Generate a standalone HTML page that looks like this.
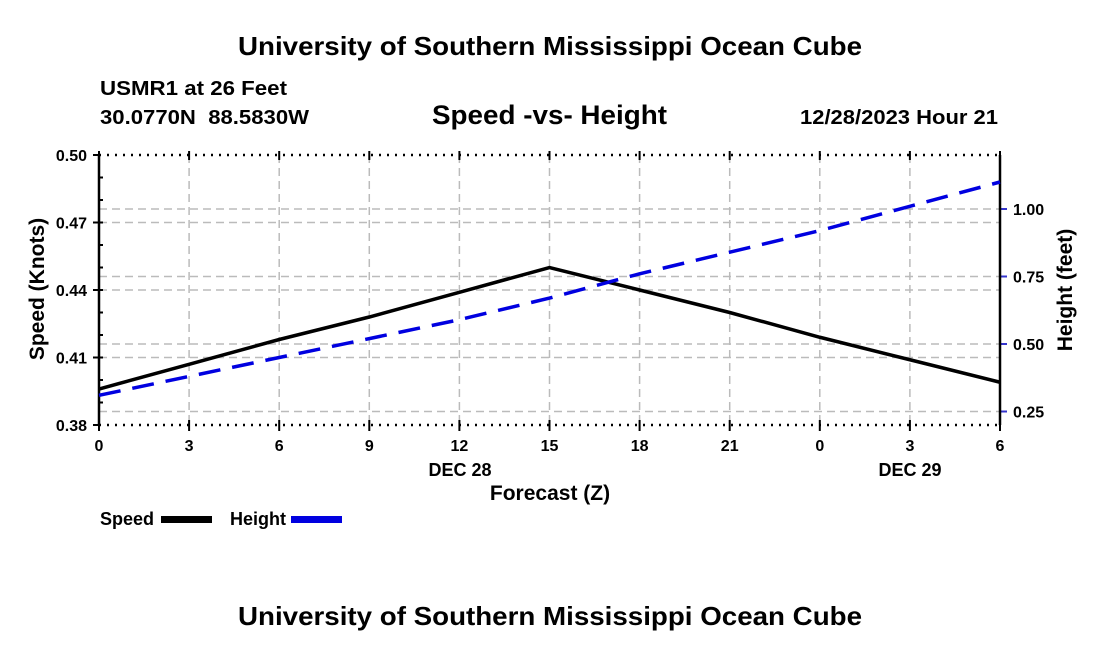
<!DOCTYPE html>
<html><head><meta charset="utf-8"><style>
body{margin:0;background:#fff}
svg text{font-family:"Liberation Sans",sans-serif;font-weight:bold;fill:#000}
</style></head><body>
<svg width="1100" height="650">
<script>
const hours=[0,3,6,9,12,15,18,21,24,27,30];
const xTickLabels=["0","3","6","9","12","15","18","21","0","3","6"];
const speedValues=[0.396,0.407,0.418,0.428,0.439,0.450,0.440,0.430,0.419,0.409,0.399];
const heightValues=[0.31,0.38,0.45,0.52,0.59,0.67,0.76,0.84,0.92,1.01,1.10];
const leftTicks=[0.38,0.41,0.44,0.47,0.50];
const rightTicks=[0.25,0.50,0.75,1.00];
</script>
<text x="238" y="55" font-size="26" textLength="624" lengthAdjust="spacingAndGlyphs">University of Southern Mississippi Ocean Cube</text>
<text x="100" y="95" font-size="20" textLength="187" lengthAdjust="spacingAndGlyphs">USMR1 at 26 Feet</text>
<text x="100" y="124" font-size="20" textLength="209" lengthAdjust="spacingAndGlyphs" xml:space="preserve">30.0770N  88.5830W</text>
<text x="432" y="124" font-size="27" textLength="235" lengthAdjust="spacingAndGlyphs">Speed -vs- Height</text>
<text x="800" y="124" font-size="20" textLength="198" lengthAdjust="spacingAndGlyphs">12/28/2023 Hour 21</text>
<g id="plot"></g>
<text x="550" y="500" font-size="21" text-anchor="middle">Forecast (Z)</text>
<text x="44" y="289" font-size="21" text-anchor="middle" transform="rotate(-90 44 289)">Speed (Knots)</text>
<text x="1072" y="290" font-size="21" text-anchor="middle" transform="rotate(-90 1072 290)">Height (feet)</text>
<text x="460" y="476" font-size="18" text-anchor="middle">DEC 28</text>
<text x="910" y="476" font-size="18" text-anchor="middle">DEC 29</text>
<g>
<text x="100" y="525" font-size="18">Speed</text>
<rect x="161" y="516" width="51" height="7" fill="#000"/>
<text x="230" y="525" font-size="18">Height</text>
<rect x="291" y="516" width="51" height="7" fill="#0000e0"/>
</g>
<text x="238" y="625" font-size="26" textLength="624" lengthAdjust="spacingAndGlyphs">University of Southern Mississippi Ocean Cube</text>
<script>
const NS="http://www.w3.org/2000/svg";
const g=document.getElementById('plot');
const X0=99,X1=1000,YT=155,YB=425;
const xs=h=>X0+(h-0)/30*(X1-X0);
const yl=v=>YB-(v-0.38)/0.12*(YB-YT);
const yr=v=>YB-(v-0.2)/1.0*(YB-YT);
function mk(t,a){const e=document.createElementNS(NS,t);for(const k in a)e.setAttribute(k,a[k]);g.appendChild(e);return e;}
hours.forEach((h,i)=>{
 const x=xs(h);
 const l=mk('line',{x1:x,y1:YT,x2:x,y2:YB,stroke:'#bbb','stroke-width':1.5,'stroke-dasharray':'8,5'});
 
 
 const tk=mk('line',{x1:x,y1:YB-5,x2:x,y2:YB+6,stroke:'#000','stroke-width':2});
 
 
 const tk2=mk('line',{x1:x,y1:YT-4,x2:x,y2:YT+5,stroke:'#000','stroke-width':2});
 
 
 const t=mk('text',{x:x,y:451,'font-size':16,'text-anchor':'middle'});t.textContent=xTickLabels[i];
 
 
});
leftTicks.forEach(v=>{
 const y=yl(v);
 if(v>0.38&&v<0.5){const l=mk('line',{x1:X0,y1:y,x2:X1,y2:y,stroke:'#bbb','stroke-width':1.5,'stroke-dasharray':'8,5'});
 
 }
 const tk=mk('line',{x1:X0-6,y1:y,x2:X0,y2:y,stroke:'#000','stroke-width':2});
 
 
 const t=mk('text',{x:X0-12,y:y+6,'font-size':16,'text-anchor':'end'});t.textContent=v.toFixed(2);
 
 
});
for(let v=0.39;v<0.5;v+=0.01){const y=yl(v);const m=mk('line',{x1:X0,y1:y,x2:X0+4,y2:y,stroke:'#000','stroke-width':2});
 
 }
rightTicks.forEach(v=>{
 const y=yr(v);
 const l=mk('line',{x1:X0,y1:y,x2:X1,y2:y,stroke:'#bbb','stroke-width':1.5,'stroke-dasharray':'8,5'});
 
 
 const tk=mk('line',{x1:X1,y1:y,x2:X1+7,y2:y,stroke:'#3333cc','stroke-width':2});
 
 
 const t=mk('text',{x:X1+13,y:y+6,'font-size':16});t.textContent=v.toFixed(2);
 
 
});
[[X0,YT,X1,YT],[X0,YB,X1,YB]].forEach((c,i)=>{
 const l=mk('line',{x1:c[0],y1:c[1],x2:c[2],y2:c[3],stroke:'#000','stroke-width':2.5,'stroke-dasharray':'2,6'});
 
 
});
[X0,X1].forEach((x,i)=>{const l=mk('line',{x1:x,y1:YT,x2:x,y2:YB,stroke:'#000','stroke-width':2.5});
 
 });
const sp=mk('polyline',{points:hours.map((h,i)=>xs(h)+','+yl(speedValues[i])).join(' '),fill:'none',stroke:'#000','stroke-width':3.5});


const hp=mk('polyline',{points:hours.map((h,i)=>xs(h)+','+yr(heightValues[i])).join(' '),fill:'none',stroke:'#0000e0','stroke-width':3.5,'stroke-dasharray':'22,12'});


</script>
</svg>
</body></html>
